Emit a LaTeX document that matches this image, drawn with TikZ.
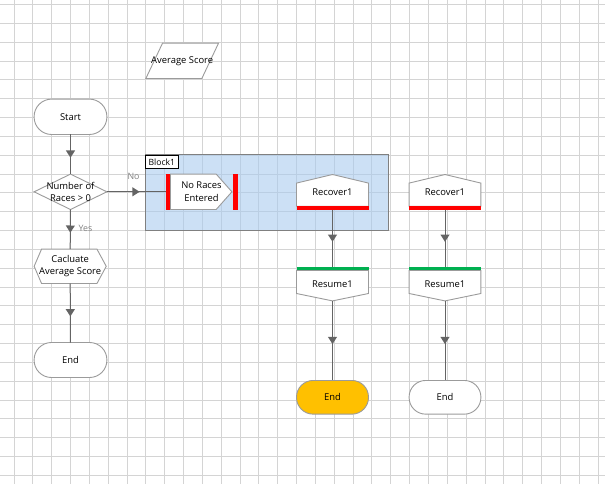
\documentclass[tikz,border=0pt]{standalone}
\usepackage{fontspec}
\setmainfont{Open Sans}
\usetikzlibrary{decorations.markings,calc}
\definecolor{gridc}{RGB}{212,212,212}
\definecolor{shapeb}{RGB}{155,155,155}
\definecolor{linec}{RGB}{100,100,100}
\definecolor{blockf}{RGB}{170,203,238}
\definecolor{blockb}{RGB}{128,128,128}
\definecolor{redbar}{RGB}{255,0,0}
\definecolor{greenbar}{RGB}{0,176,80}
\definecolor{endorange}{RGB}{255,192,0}
\definecolor{lblc}{RGB}{128,128,128}
\pgfdeclarelayer{gridlayer}
\pgfdeclarelayer{shapelayer}
\pgfsetlayers{gridlayer,shapelayer,main}
\tikzset{
  txt/.style={font=\fontsize{9.4}{12.3}\selectfont, align=center, text=black, inner sep=0pt},
  box/.style={txt, rectangle, draw=none, minimum width=#1},
  outline/.style={draw=shapeb, line width=0.9pt, fill=white},
  conn/.style={draw=linec, line width=1pt, postaction={decorate},
    decoration={markings, mark=at position 0.5 with {\fill[linec] (-3.8pt,-4.6pt) -- (3.4pt,0pt) -- (-3.8pt,4.6pt) -- cycle;}}},
  sidelbl/.style={font=\fontsize{8.8}{10}\selectfont, text=lblc, inner sep=0pt},
}
\begin{document}
\begin{tikzpicture}[x=1pt,y=-1pt]
\useasboundingbox (0,0) rectangle (605,484);
\begin{pgfonlayer}{gridlayer}
\foreach \i in {0,...,31} \draw[gridc, line width=1pt] ({14+18.84*\i},0) -- ({14+18.84*\i},484);
\foreach \j in {0,...,25} \draw[gridc, line width=1pt] (0,{4.5+18.84*\j}) -- (605,{4.5+18.84*\j});
\fill[blockf, fill opacity=0.6] (145,155) rectangle (388.3,230);
\draw[blockb, line width=1pt] (145,155) rectangle (388.3,230);
\end{pgfonlayer}
\node[txt, draw=black, line width=0.8pt, fill=white, minimum width=33pt, minimum height=13.3pt, anchor=north west, font=\fontsize{8.6}{10}\selectfont] (blk) at (145,155) {Block1};

% nodes
\node[box=72.3pt, minimum height=35pt] (avg) at (182.2,60.8) {Average Score};
\node[box=72.4pt, minimum height=35pt] (start) at (70.5,116.8) {\raisebox{-0.8pt}{Start}};
\node[box=72.4pt, minimum height=35pt] (dec) at (70.5,191.8) {Number of\\Races > 0};
\node[box=71.7pt, minimum height=34pt] (calc) at (70.2,266.3) {Cacluate\\Average Score};
\node[box=72.4pt, minimum height=34.6pt] (endl) at (70.5,360) {\raisebox{-0.8pt}{End}};
\node[box=71.6pt, minimum height=35pt] (nre) at (201.5,191.8) {No Races\\Entered};
\node[box=71.6pt, minimum height=34.8pt] (reca) at (332.5,192.1) {\raisebox{-1.8pt}{Recover1}};
\node[box=71.6pt, minimum height=33.4pt] (resa) at (332.5,284) {\raisebox{-3.3pt}{Resume1}};
\node[box=71.6pt, minimum height=33.3pt] (enda) at (332.5,397.3) {\raisebox{-0.8pt}{End}};
\node[box=71.4pt, minimum height=34.8pt] (recb) at (445,192.1) {\raisebox{-1.8pt}{Recover1}};
\node[box=71.4pt, minimum height=33.4pt] (resb) at (445,284) {\raisebox{-3.3pt}{Resume1}};
\node[box=71.4pt, minimum height=33.3pt] (endb) at (445,397.3) {\raisebox{-0.8pt}{End}};

\begin{pgfonlayer}{shapelayer}
\path[outline] ($(avg.north west)+(16.7,0)$) -- (avg.north east) -- ($(avg.south east)+(-16.7,0)$) -- (avg.south west) -- cycle;
\path[outline, rounded corners=17.5pt] (start.north west) rectangle (start.south east);
\path[outline] (dec.north) -- (dec.east) -- (dec.south) -- (dec.west) -- cycle;
\path[outline] (calc.west) -- ($(calc.north west)+(7.4,0)$) -- ($(calc.north east)+(-9.3,0)$) -- (calc.east) -- ($(calc.south east)+(-9.3,0)$) -- ($(calc.south west)+(7.4,0)$) -- cycle;
\path[outline, rounded corners=17.3pt] (endl.north west) rectangle (endl.south east);
\fill[redbar] (nre.north west) rectangle ($(nre.south west)+(5,0)$);
\fill[redbar] ($(nre.north east)+(-5,0)$) rectangle (nre.south east);
\path[outline] ($(nre.north west)+(5,0)$) -- ($(nre.north east)+(-21.3,0)$) -- ($(nre.east)+(-5.6,0)$) -- ($(nre.south east)+(-21.3,0)$) -- ($(nre.south west)+(5,0)$) -- cycle;
\foreach \r/\s in {reca/resa, recb/resb} {
  \path[outline] ($(\r.south west)+(0,-3.5)$) -- ($(\r.north west)+(0,8.6)$) -- (\r.north) -- ($(\r.north east)+(0,8.6)$) -- ($(\r.south east)+(0,-3.5)$) -- cycle;
  \fill[redbar] ($(\r.south west)+(0,-3.5)$) rectangle (\r.south east);
  \fill[greenbar] (\s.north west) rectangle ($(\s.north east)+(0,3.4)$);
  \path[outline] ($(\s.north west)+(0,3.4)$) -- ($(\s.north east)+(0,3.4)$) -- ($(\s.south east)+(0,-7.4)$) -- (\s.south) -- ($(\s.south west)+(0,-7.4)$) -- cycle;
}
\path[outline, fill=endorange, rounded corners=16.6pt] (enda.north west) rectangle (enda.south east);
\path[outline, rounded corners=16.6pt] (endb.north west) rectangle (endb.south east);
\end{pgfonlayer}

% connectors
\path[conn] (start.south) -- (dec.north);
\path[conn] (dec.east) -- (nre.west);
\path[conn] (dec.south) -- (calc.north);
\path[conn] (calc.south) -- (endl.north);
\path[conn] (reca.south) -- (resa.north);
\path[conn] (resa.south) -- (enda.north);
\path[conn] (recb.south) -- (resb.north);
\path[conn] (resb.south) -- (endb.north);
\node[sidelbl] (nolbl) at (133.5,176) {No};
\node[sidelbl, anchor=west] (yeslbl) at (78.5,228.5) {Yes};
\end{tikzpicture}
\end{document}
